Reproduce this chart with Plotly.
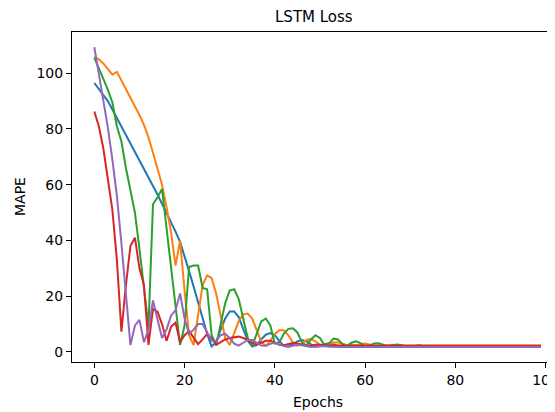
import plotly.graph_objects as go

epochs = list(range(100))

blue = [96.5, 94.3, 92.2, 90.0, 87.0, 84.0, 81.0, 78.0, 75.0, 72.0,
        69.0, 66.0, 63.0, 59.8, 56.5, 53.2, 50.0, 46.6, 43.2, 39.5,
        34.5, 29.0, 23.5, 18.0, 12.5, 6.5, 2.0, 3.5, 8.0, 12.0,
        14.5, 14.5, 12.5, 8.5, 4.0, 1.9, 2.5, 4.5, 6.2, 6.8,
        6.0, 4.0, 2.2, 1.9, 2.8, 3.8, 4.3, 3.8, 2.7, 2.0,
        2.1, 2.8, 3.1, 2.8, 2.2, 1.9, 2.1, 2.4, 2.4, 2.1,
        1.95, 2.0, 2.2, 2.2, 2.0, 1.95, 2.0, 2.1, 2.05, 2.0,
        2.0, 2.0, 2.0, 2.0, 2.0, 2.0, 2.0, 2.0, 2.0, 2.0,
        2.0, 2.0, 2.0, 2.0, 2.0, 2.0, 2.0, 2.0, 2.0, 2.0,
        2.0, 2.0, 2.0, 2.0, 2.0, 2.0, 2.0, 2.0, 2.0, 2.0]

orange = [106.0, 105.0, 103.5, 101.5, 99.5, 100.5, 97.5, 94.5, 91.0, 88.0,
          85.0, 81.5, 77.0, 71.5, 66.0, 60.0, 52.0, 43.0, 31.0, 40.0,
          22.0, 6.0, 2.5, 14.0, 24.0, 27.5, 26.5, 21.0, 13.0, 5.0,
          2.5, 6.5, 11.0, 13.5, 13.8, 12.0, 8.0, 3.5, 2.2, 4.0,
          6.5, 7.8, 7.8, 6.0, 3.5, 2.2, 3.0, 4.3, 4.6, 3.8,
          2.6, 2.2, 2.8, 3.4, 3.5, 3.0, 2.4, 2.2, 2.5, 2.9,
          3.0, 2.7, 2.3, 2.2, 2.4, 2.6, 2.6, 2.4, 2.3, 2.3,
          2.3, 2.3, 2.3, 2.3, 2.3, 2.3, 2.3, 2.3, 2.3, 2.3,
          2.3, 2.3, 2.3, 2.3, 2.3, 2.3, 2.3, 2.3, 2.3, 2.3,
          2.3, 2.3, 2.3, 2.3, 2.3, 2.3, 2.3, 2.3, 2.3, 2.3]

green = [105.5, 102.0, 98.0, 94.0, 89.5, 81.0, 75.5, 66.0, 58.0, 50.0,
         37.0, 22.0, 9.0, 53.0, 55.5, 58.5, 45.0, 31.0, 16.0, 2.5,
         9.5, 30.5, 31.0, 31.0, 23.0, 22.5, 6.0, 2.5, 10.0, 17.5,
         22.0, 22.5, 19.0, 12.5, 5.0, 2.2, 6.5, 11.0, 12.0, 9.5,
         3.0, 3.5, 6.5, 8.3, 8.5, 7.0, 3.5, 2.3, 4.5, 6.0,
         5.0, 2.5, 3.0, 4.8, 4.5, 2.8, 2.2, 3.3, 3.8, 3.2,
         2.2, 2.3, 3.0, 3.1, 2.6, 2.0, 2.3, 2.7, 2.5, 2.1,
         2.0, 2.3, 2.4, 2.1, 2.0, 2.0, 2.0, 2.0, 2.0, 2.0,
         2.0, 2.0, 2.0, 2.0, 2.0, 2.0, 2.0, 2.0, 2.0, 2.0,
         2.0, 2.0, 2.0, 2.0, 2.0, 2.0, 2.0, 2.0, 2.0, 2.0]

red = [86.3, 81.0, 73.0, 61.0, 51.0, 33.0, 7.3, 24.0, 38.0, 41.0,
       30.0, 24.0, 2.5, 15.5, 14.5, 10.0, 4.0, 9.0, 10.5, 3.5,
       6.0, 7.5, 5.0, 2.8, 4.5, 6.5, 5.0, 2.5, 3.5, 4.5,
       5.0, 5.3, 5.5, 5.0, 4.3, 3.3, 2.6, 3.3, 4.0, 4.0,
       3.3, 2.6, 2.4, 2.9, 3.2, 3.0, 2.5, 2.2, 2.3, 2.6,
       2.6, 2.3, 2.2, 2.3, 2.4, 2.3, 2.2, 2.2, 2.2, 2.2,
       2.2, 2.2, 2.2, 2.2, 2.2, 2.2, 2.2, 2.2, 2.2, 2.2,
       2.2, 2.2, 2.2, 2.2, 2.2, 2.2, 2.2, 2.2, 2.2, 2.2,
       2.2, 2.2, 2.2, 2.2, 2.2, 2.2, 2.2, 2.2, 2.2, 2.2,
       2.2, 2.2, 2.2, 2.2, 2.2, 2.2, 2.2, 2.2, 2.2, 2.2]

purple = [109.4, 100.0, 91.0, 80.5, 69.0, 56.0, 39.0, 20.0, 2.5, 9.5,
          11.5, 3.5, 8.0, 18.5, 12.0, 5.0, 8.0, 13.0, 15.0, 21.0,
          12.0, 6.5, 8.0, 10.0, 10.0, 7.0, 4.0, 4.0, 6.0, 6.5,
          5.0, 3.0, 2.3, 3.3, 4.3, 4.3, 3.3, 2.3, 2.2, 2.9,
          3.3, 2.8, 2.1, 1.9, 2.3, 2.6, 2.4, 2.0, 1.8, 1.9,
          2.1, 2.1, 1.9, 1.8, 1.8, 1.8, 1.8, 1.8, 1.8, 1.8,
          1.8, 1.8, 1.8, 1.8, 1.8, 1.8, 1.8, 1.8, 1.8, 1.8,
          1.8, 1.8, 1.8, 1.8, 1.8, 1.8, 1.8, 1.8, 1.8, 1.8,
          1.8, 1.8, 1.8, 1.8, 1.8, 1.8, 1.8, 1.8, 1.8, 1.8,
          1.8, 1.8, 1.8, 1.8, 1.8, 1.8, 1.8, 1.8, 1.8, 1.8]

series = [blue, orange, green, red, purple]
colors = ["#1f77b4", "#ff7f0e", "#2ca02c", "#d62728", "#9467bd"]

x_ticks = [0, 20, 40, 60, 80, 100]
y_ticks = [0, 20, 40, 60, 80, 100]

FONT = "DejaVu Sans"

fig = go.Figure()
for s, c in zip(series, colors):
    fig.add_trace(go.Scatter(x=epochs, y=s, mode="lines",
                             line=dict(color=c, width=2), showlegend=False,
                             hoverinfo="skip"))

# page body has an 8px margin: figure is shifted by 8px right and down
fig.update_layout(
    width=547, height=404,
    margin=dict(l=64, r=0, t=24, b=50),
    paper_bgcolor="white", plot_bgcolor="white",
    font=dict(family=FONT, size=14, color="black"),
    showlegend=False,
)
fig.update_xaxes(range=[-4.95, 102.1], tickvals=x_ticks,
                 ticktext=[str(v) for v in x_ticks],
                 showgrid=False, zeroline=False,
                 showline=True, linecolor="black", linewidth=1.1, mirror=True,
                 ticks="outside", ticklen=5, tickwidth=1.1, tickcolor="black",
                 tickfont=dict(family=FONT, size=14, color="black"),
                 ticklabeloverflow="allow",
                 automargin=False)
fig.update_yaxes(range=[-3.6, 114.8], tickvals=y_ticks,
                 ticktext=[str(v) for v in y_ticks],
                 showgrid=False, zeroline=False,
                 showline=True, linecolor="black", linewidth=1.1, mirror=False,
                 ticks="outside", ticklen=5, tickwidth=1.1, tickcolor="black",
                 tickfont=dict(family=FONT, size=14, color="black"),
                 automargin=False)

fig.add_annotation(text="LSTM Loss", xref="paper", yref="paper",
                   x=(314 - 72) / 483, y=(362 - 17) / 330, xanchor="center", yanchor="middle",
                   showarrow=False, font=dict(family=FONT, size=15, color="black"))
fig.add_annotation(text="Epochs", xref="paper", yref="paper",
                   x=0.510, y=(362 - 402) / 330, xanchor="center", yanchor="middle",
                   showarrow=False, font=dict(family=FONT, size=14, color="black"))
fig.add_annotation(text="MAPE", xref="paper", yref="paper",
                   x=(20 - 72) / 483, y=(362 - 197) / 330, xanchor="center", yanchor="middle",
                   textangle=-90,
                   showarrow=False, font=dict(family=FONT, size=14, color="black"))

fig.write_html("out.html")
